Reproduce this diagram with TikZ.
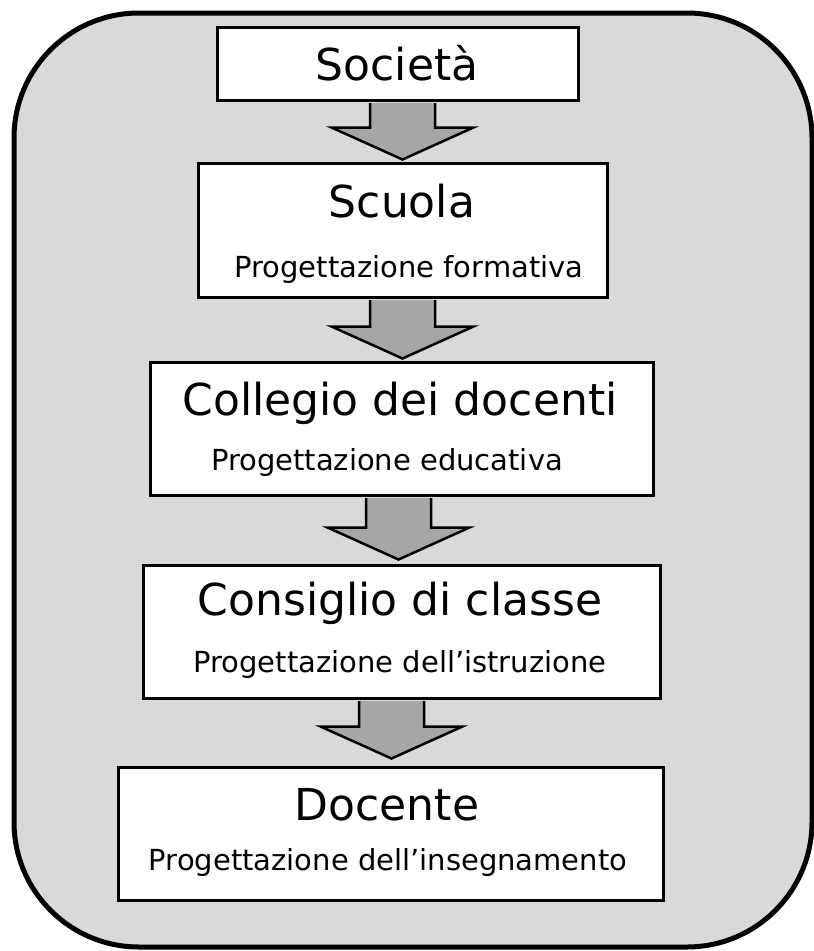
\documentclass[tikz,border=0pt]{standalone}
\usepackage{fontspec}
\setmainfont{DejaVu Sans}
\usetikzlibrary{calc}
\definecolor{bggray}{RGB}{217,217,217}
\definecolor{arrgray}{RGB}{166,166,166}
\newcommand\blockarrow[2]{%
  \fill[arrfill] ($(#1)+(-32.5,1.5)$) -- ($(#2)+(-32.5,-32)$) -- ($(#2)+(-71,-32)$) -- (#2)
     -- ($(#2)+(71,-32)$) -- ($(#2)+(32.5,-32)$) -- ($(#1)+(32.5,1.5)$) -- cycle;
  \draw[arrline] ($(#1)+(-32.5,1.5)$) -- ($(#2)+(-32.5,-32)$) -- ($(#2)+(-71,-32)$) -- (#2)
     -- ($(#2)+(71,-32)$) -- ($(#2)+(32.5,-32)$) -- ($(#1)+(32.5,1.5)$);
}
\begin{document}
\begin{tikzpicture}[x=1pt,y=-1pt,
  box/.style={draw=black, line width=3pt, fill=white, rectangle, inner sep=0pt},
  titletext/.style={font=\fontsize{44}{50}\selectfont, inner sep=0pt, anchor=base},
  subtext/.style={font=\fontsize{29}{34}\selectfont, inner sep=0pt, anchor=base},
  arrfill/.style={fill=arrgray},
  arrline/.style={draw=black, line width=2.5pt, line join=miter}]
\useasboundingbox (0,0) rectangle (814,951);
\draw[fill=bggray, line width=5pt, rounded corners=125pt] (14,13) rectangle (812,947);

\node[box, minimum width=361pt, minimum height=73pt] (soc) at (397.5,63.5) {};
\node[box, minimum width=409pt, minimum height=134pt] (scu) at (402.5,230) {};
\node[box, minimum width=503pt, minimum height=133pt] (col) at (401.5,428.5) {};
\node[box, minimum width=517pt, minimum height=133pt] (con) at (401.5,631.5) {};
\node[box, minimum width=545pt, minimum height=133pt] (doc) at (390.5,833.5) {};

\coordinate (a1top) at ($(soc.south)+(5,0)$);
\coordinate (a1tip) at ($(a1top |- scu.north)+(0,-2)$);
\coordinate (a2top) at ($(scu.south)+(0,0)$);
\coordinate (a2tip) at ($(a2top |- col.north)+(0,-2)$);
\coordinate (a3top) at ($(col.south)+(-3,0)$);
\coordinate (a3tip) at ($(a3top |- con.north)+(0,-4)$);
\coordinate (a4top) at ($(con.south)+(-10,0)$);
\coordinate (a4tip) at ($(a4top |- doc.north)+(0,-7)$);
\blockarrow{a1top}{a1tip}
\blockarrow{a2top}{a2tip}
\blockarrow{a3top}{a3tip}
\blockarrow{a4top}{a4tip}

\node[titletext] (socT) at (397,80) {Società};
\node[titletext] (scuT) at (402,217) {Scuola};
\node[subtext] (scuS) at (409,277) {Progettazione formativa};
\node[titletext] (colT) at (400,415) {Collegio dei docenti};
\node[subtext] (colS) at (387,470) {Progettazione educativa};
\node[titletext] (conT) at (400,615) {Consiglio di classe};
\node[subtext] (conS) at (400,672) {Progettazione dell’istruzione};
\node[titletext] (docT) at (387,820) {Docente};
\node[subtext] (docS) at (388,870) {Progettazione dell’insegnamento};
\end{tikzpicture}
\end{document}
